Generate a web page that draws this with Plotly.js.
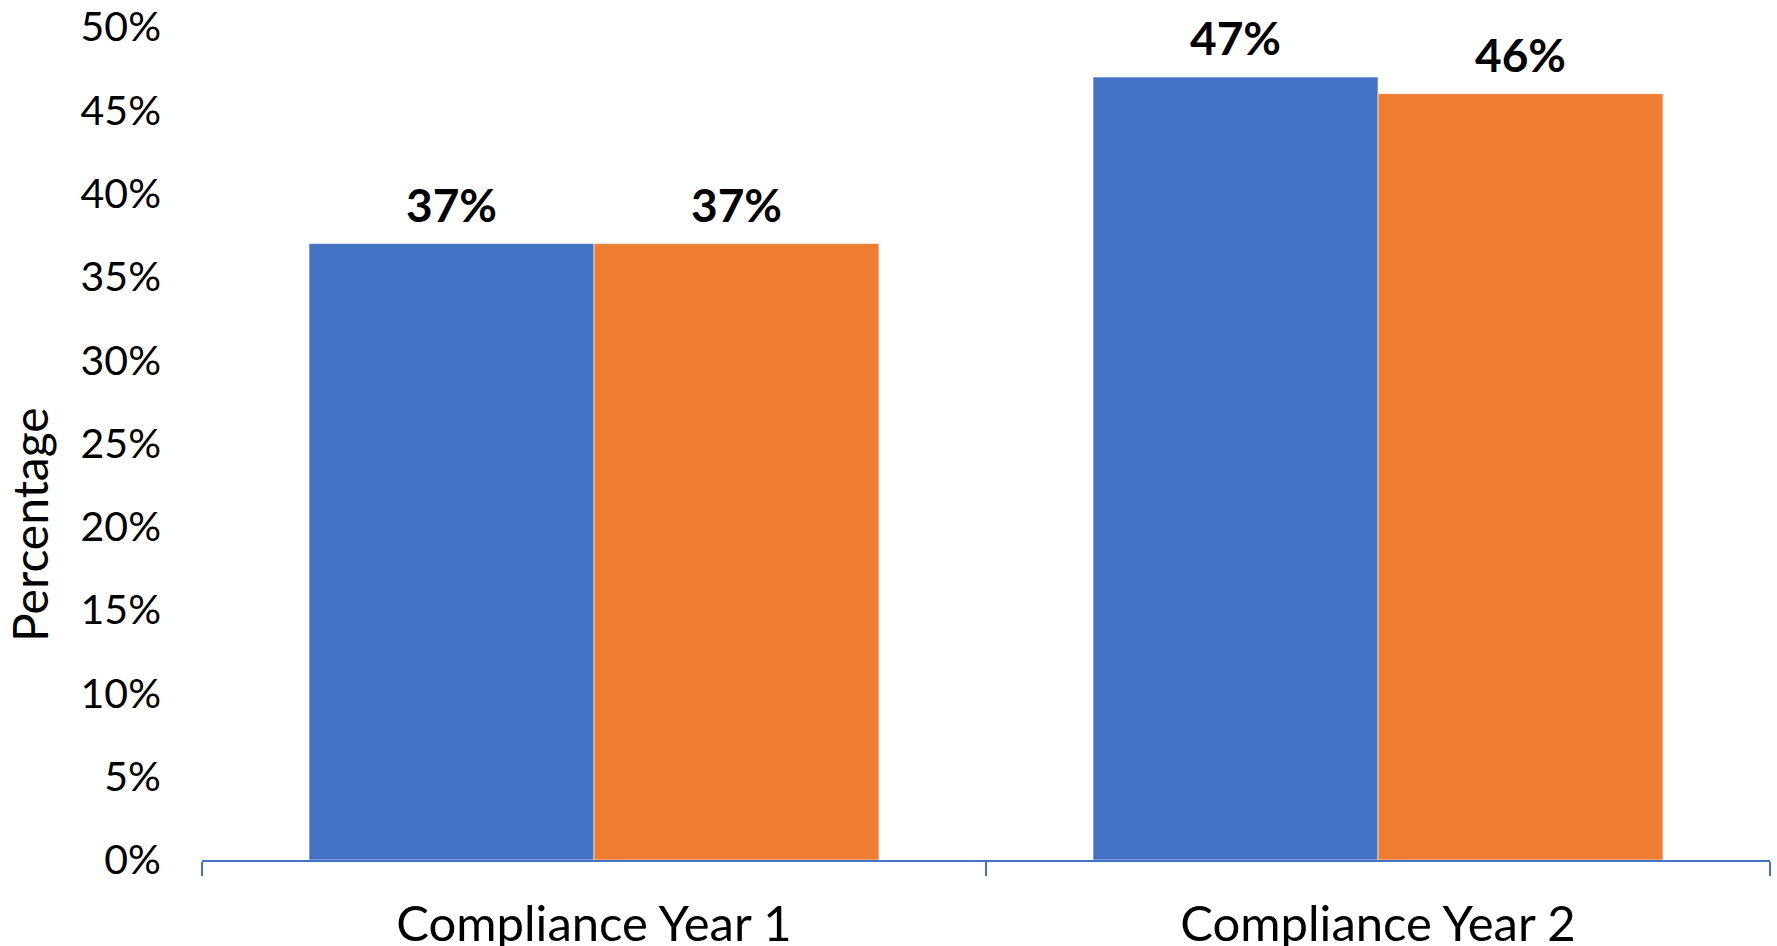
<!DOCTYPE html>
<html>
<head>
<meta charset="utf-8">
<script src="https://cdn.plot.ly/plotly-3.0.1.min.js"></script>
<style>
  html, body { margin: 0; padding: 0; background: #ffffff; }
  #chart { width: 1777px; height: 946px; }
</style>
</head>
<body>
<div id="chart"></div>
<script>
// Compliance rates by year, two series per year
const categories = ['Compliance Year 1', 'Compliance Year 2'];
const seriesA = [37, 47];
const seriesB = [37, 46];
const seriesColors = ['#4472C4', '#ED7D31'];
const yTickValues = [0, 5, 10, 15, 20, 25, 30, 35, 40, 45, 50];

const bargap = 0.273;

const traces = [seriesA, seriesB].map((vals, i) => ({
  type: 'bar',
  x: categories,
  y: vals,
  marker: { color: seriesColors[i], line: { width: 0.6, color: '#ffffff' } },
  hoverinfo: 'skip',
  showlegend: false
}));

// Value labels above each bar, placed at the bar's own category slot
const groupWidth = 1 - bargap;
const annotations = [];
[seriesA, seriesB].forEach((vals, s) => {
  vals.forEach((v, i) => {
    annotations.push({
      x: i + (s === 0 ? -1 : 1) * groupWidth / 4,
      y: v,
      xref: 'x', yref: 'y',
      text: '<b>' + v + '%</b>',
      showarrow: false,
      yanchor: 'bottom',
      yshift: 10,
      font: { family: 'Lato', size: 46, color: '#000000' }
    });
  });
});

// Vertical axis title
annotations.push({
  xref: 'paper', yref: 'paper',
  x: (29 - 202) / 1568, y: (860 - 525) / 833,
  xanchor: 'center', yanchor: 'middle',
  text: 'Percentage',
  textangle: -90,
  showarrow: false,
  font: { family: 'Lato', size: 48, color: '#000000' }
});

const layout = {
  width: 1777,
  height: 946,
  margin: { l: 202, r: 7, t: 27, b: 86 },
  paper_bgcolor: '#ffffff',
  plot_bgcolor: '#ffffff',
  barmode: 'group',
  bargap: bargap,
  bargroupgap: 0,
  xaxis: {
    type: 'category',
    range: [-0.5, 1.5],
    showline: true,
    linecolor: '#4472C4',
    linewidth: 2,
    ticks: 'outside',
    tickson: 'boundaries',
    ticklen: 14,
    tickwidth: 1.5,
    tickcolor: '#4472C4',
    ticklabelstandoff: 20,
    showgrid: false,
    zeroline: false,
    tickfont: { family: 'Lato', size: 49, color: '#000000' }
  },
  yaxis: {
    range: [0, 50],
    tickvals: yTickValues,
    ticktext: yTickValues.map(v => v + '%'),
    showgrid: false,
    zeroline: false,
    showline: false,
    ticks: '',
    ticklabelstandoff: 40,
    tickfont: { family: 'Lato', size: 41, color: '#000000' }
  },
  annotations: annotations
};

Plotly.newPlot('chart', traces, layout, { displayModeBar: false, staticPlot: true });
</script>
</body>
</html>
